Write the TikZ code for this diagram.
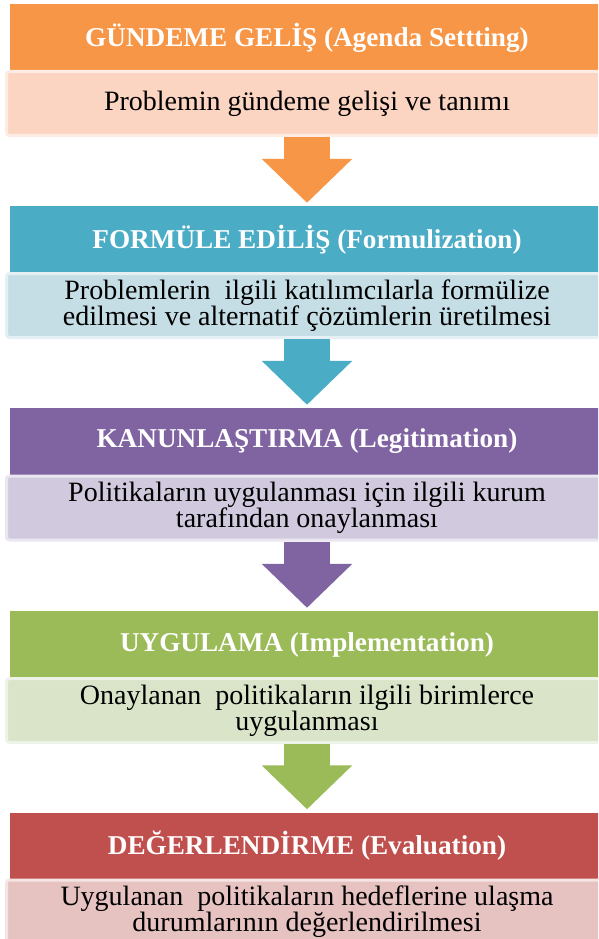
\documentclass[tikz,border=0pt]{standalone}
\usepackage{fontspec}
\setmainfont{Liberation Serif}
\usetikzlibrary{arrows.meta}

\definecolor{orangehead}{HTML}{F79646}
\definecolor{orangesub}{HTML}{FBD4C2}
\definecolor{tealhead}{HTML}{4BACC6}
\definecolor{tealsub}{HTML}{C5DEE6}
\definecolor{purplehead}{HTML}{8064A2}
\definecolor{purplesub}{HTML}{D1C9DD}
\definecolor{greenhead}{HTML}{9BBB59}
\definecolor{greensub}{HTML}{D9E4C9}
\definecolor{redhead}{HTML}{C0504D}
\definecolor{redsub}{HTML}{E6C2C1}

\newcommand{\headsize}{\fontsize{27.2}{28}\selectfont}
\newcommand{\txtsize}{\fontsize{28}{26}\selectfont}

\tikzset{
  head/.style={fill=#1, text=white, inner sep=0pt, minimum width=594pt,
    minimum height=67pt, font=\headsize\bfseries},
  sub/.style={fill=#1, draw=#1!45!white, line width=3pt, rounded corners=3pt,
    inner sep=0pt, minimum width=601pt, minimum height=64pt, align=center,
    font=\txtsize},
  blockarrow/.style={draw=#1, line width=46pt,
    -{Triangle[width=88pt,length=44pt]}, shorten >=3pt}
}

\begin{document}
\begin{tikzpicture}[x=1pt,y=-1pt]
  \useasboundingbox (0,0) rectangle (598,939);
  \clip (0,0) rectangle (598,939);

  % agenda setting
  \node (head1) at (307,37.5) [head=orangehead] {GÜNDEME GELİŞ (Agenda Settting)};
  \node (sub1) at (307,103.5) [sub=orangesub] {Problemin gündeme gelişi ve tanımı};

  % formulization
  \node (head2) at (307,239.5) [head=tealhead] {FORMÜLE EDİLİŞ (Formulization)};
  \node (sub2) at (307,305.5) [sub=tealsub] {Problemlerin\ \ ilgili katılımcılarla formülize\\edilmesi ve alternatif çözümlerin üretilmesi};

  % legitimation
  \node (head3) at (307,441.5) [head=purplehead] {KANUNLAŞTIRMA (Legitimation)};
  \node (sub3) at (307,508) [sub=purplesub] {Politikaların uygulanması için ilgili kurum\\tarafından onaylanması};

  % implementation
  \node (head4) at (307,644.5) [head=greenhead] {UYGULAMA (Implementation)};
  \node (sub4) at (307,710.5) [sub=greensub] {Onaylanan\ \ politikaların ilgili birimlerce\\uygulanması};

  % evaluation
  \node (head5) at (307,846) [head=redhead] {DEĞERLENDİRME (Evaluation)};
  \node (sub5) at (307,912) [sub=redsub] {Uygulanan\ \ politikaların hedeflerine ulaşma\\durumlarının değerlendirilmesi};

  \draw[blockarrow=orangehead] (sub1.south) -- (head2.north);
  \draw[blockarrow=tealhead] (sub2.south) -- (head3.north);
  \draw[blockarrow=purplehead] (sub3.south) -- (head4.north);
  \draw[blockarrow=greenhead] (sub4.south) -- (head5.north);
\end{tikzpicture}
\end{document}
